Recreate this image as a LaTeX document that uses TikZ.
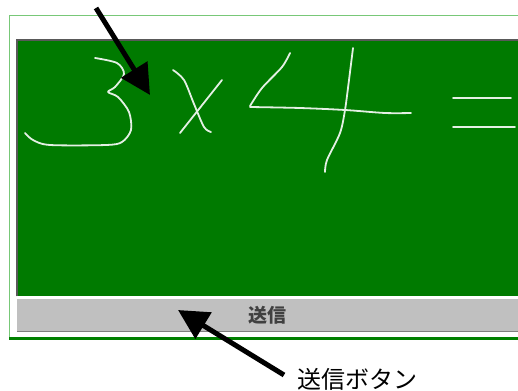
\documentclass[tikz,border=0pt]{standalone}
\usepackage{fontspec}
\newfontfamily\jpfont{Noto Sans CJK JP}
\usetikzlibrary{positioning,arrows.meta}
\definecolor{boardgreen}{RGB}{0,122,0}
\definecolor{framegreen}{RGB}{120,200,120}
\definecolor{edgegreen}{RGB}{0,128,0}
\definecolor{btngray}{RGB}{192,192,192}
\definecolor{chalkwhite}{RGB}{228,240,228}

\begin{document}
\begin{tikzpicture}[x=1pt,y=-1pt,
    chalk/.style={chalkwhite, line width=1.8pt, line cap=round, line join=round},
    pointer/.style={line width=5pt, -{Triangle[length=30pt,width=30pt]}}]
    \useasboundingbox (0,0) rectangle (518,390);
    % window frame
    \fill[white] (9,15) rectangle (518,340);
    \draw[framegreen, line width=1.5pt] (518,15.5) -- (9.5,15.5) -- (9.5,339);
    \draw[edgegreen, line width=2.5pt] (9,338.5) -- (518,338.5);
    % board and send button
    \node[fill=boardgreen, anchor=north west, inner sep=0, minimum width=501pt, minimum height=256pt] (board) at (17,40) {};
    \draw[gray!70!black, line width=1.5pt] (board.south west) -- (board.north west) -- (board.north east);
    \node[fill=btngray, anchor=north west, inner sep=0, minimum width=501pt, minimum height=32pt,
          font=\jpfont\fontsize{19}{19}\selectfont\bfseries, text=black!75] (sendbtn) at (17,299) {送信};
    \draw[gray, line width=1.5pt] (sendbtn.south west) -- (sendbtn.south east);
    % handwriting on the board
    \draw[chalk] plot[smooth] coordinates {(95,58) (117,63) (124,74) (115,87) (108,92) (118,97) (129,112) (131,130) (122,142) (106,145) (50,145) (33,140) (25,133)};
    \draw[chalk] plot[smooth] coordinates {(173,70) (184,80) (194,104) (204,127) (211,132)};
    \draw[chalk] (222,80) -- (180,133);
    \draw[chalk] plot[smooth] coordinates {(290,53) (282,67) (262,88) (250,106)};
    \draw[chalk] plot[smooth] coordinates {(250,107) (300,108) (345,110) (385,113) (411,113)};
    \draw[chalk] plot[smooth] coordinates {(353,48) (349,80) (345,110) (340,133) (327,160) (325,172)};
    \draw[chalk] (453,98) -- (511,98);
    \draw[chalk] (453,127) -- (515,127);
    % labels and pointers
    \node[font=\jpfont\fontsize{24}{24}\selectfont, anchor=west, inner sep=0] (btnlabel) at (297,379) {送信ボタン};
    \coordinate (pentail) at (96,8);
    \coordinate (pentip) at (150,95);
    \coordinate (btntail) at (284,375);
    \coordinate (btntip) at (178,310);
    \draw[pointer] (pentail) -- (pentip);
    \draw[pointer] (btntail) -- (btntip);
\end{tikzpicture}
\end{document}
